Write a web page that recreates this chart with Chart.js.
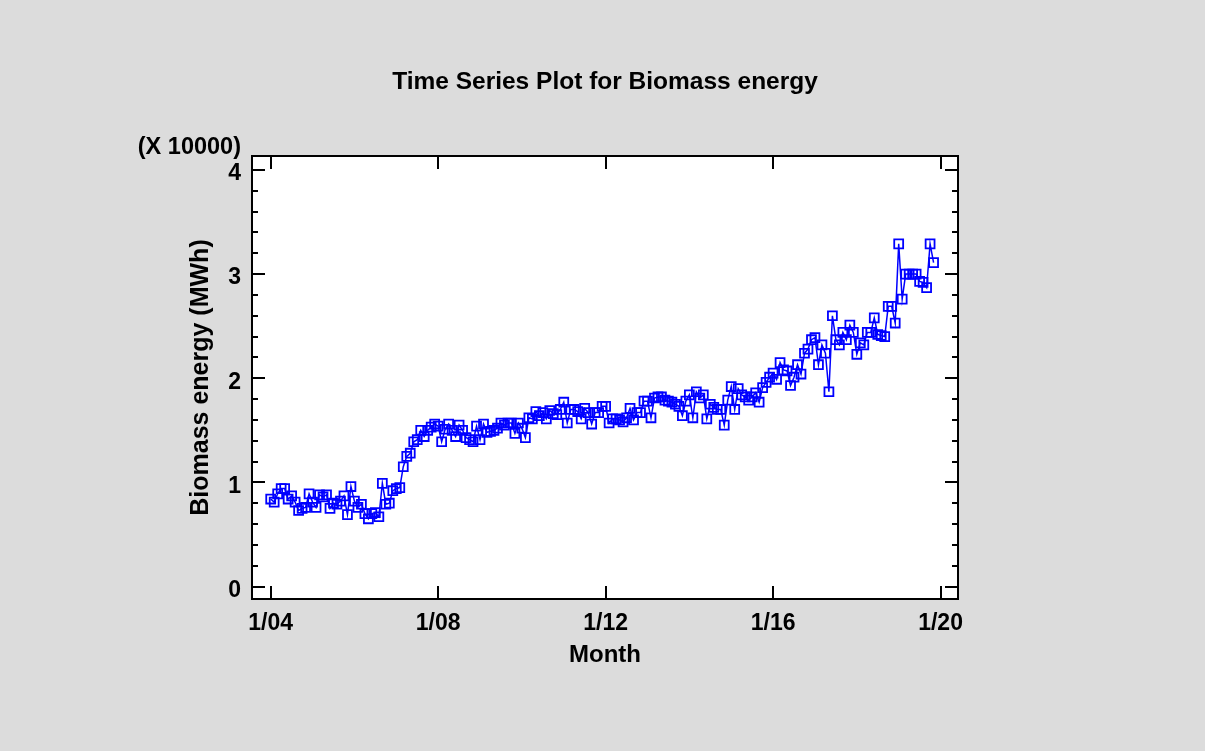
<!DOCTYPE html>
<html lang="en">
<head>
    <meta charset="UTF-8">
    <title>Time Series Plot for Biomass energy</title>
    <script src="https://cdn.jsdelivr.net/npm/chart.js"></script>
    <style>
        body { margin: 0; background: #dcdcdc; }
        #plot { display: block; }
    </style>
</head>
<body>
    <canvas id="plot" width="1205" height="751"></canvas>

    <script>
        // Monthly biomass energy (MWh), Jan 2004 onwards, one row per year
        var biomassMWh = [
            8400, 8100, 8900, 9400, 9400, 8400, 8700, 8100, 7300, 7500, 7600, 8900,
            8100, 7600, 8800, 8600, 8800, 7500, 8000, 7900, 8200, 8700, 6900, 9600,
            8200, 7600, 7900, 7000, 6500, 7000, 7100, 6700, 9900, 7900, 8000, 9200,
            9400, 9500, 11500, 12500, 12800, 13900, 14100, 15000, 14400, 15000, 15300, 15600,
            15400, 13900, 15100, 15600, 15000, 14400, 15500, 15000, 14300, 14100, 13900, 15400,
            14100, 15600, 14800, 14900, 15000, 15200, 15700, 15500, 15700, 15700, 14700, 15700,
            15200, 14300, 16200, 16100, 16800, 16400, 16700, 16100, 16900, 16600, 16500, 17000,
            17700, 15700, 17000, 17000, 16800, 16100, 17100, 16700, 15600, 16700, 16700, 17300,
            17300, 15700, 16100, 16100, 16000, 15800, 16200, 17100, 16000, 16700, 16700, 17800,
            17800, 16200, 18100, 18200, 18200, 17900, 17800, 17700, 17500, 17300, 16400, 17800,
            18400, 16200, 18700, 18100, 18400, 16100, 17500, 17200, 17000, 17000, 15500, 17900,
            19200, 17000, 19000, 18400, 18200, 17900, 18200, 18600, 17700, 19100, 19600, 20100,
            20500, 19900, 21500, 20800, 20700, 19300, 20100, 21300, 20400, 22400, 22800, 23700,
            23900, 21300, 23200, 22400, 18700, 26000, 23700, 23200, 24400, 23700, 25100, 24400,
            22300, 23400, 23200, 24400, 24400, 25800, 24200, 24100, 24000, 26900, 26900, 25300,
            32900, 27600, 30000, 30000, 30000, 30000, 29300, 29200, 28700, 32900, 31100
        ];

        // x axis: months counted from Jan 2004
        var xTickMonths = [0, 48, 96, 144, 192];
        var xTickLabels = ['1/04', '1/08', '1/12', '1/16', '1/20'];
        var yTicks = [0, 10000, 20000, 30000, 40000];
        var yMinorStep = 2000;

        var points = biomassMWh.map(function (v, i) {
            return { x: i, y: v };
        });

        var FONT = '"Liberation Sans", Arial, sans-serif';

        // grey page, white plot area, framed box with inward ticks
        var framePlugin = {
            id: 'frame',
            beforeDraw: function (chart) {
                var c = chart.ctx, a = chart.chartArea;
                c.save();
                c.fillStyle = '#dcdcdc';
                c.fillRect(0, 0, chart.width, chart.height);
                c.fillStyle = '#ffffff';
                c.fillRect(a.left, a.top, a.right - a.left, a.bottom - a.top);
                c.restore();
            },
            afterDraw: function (chart) {
                var c = chart.ctx, a = chart.chartArea;
                var xs = chart.scales.x, ys = chart.scales.y;
                c.save();
                c.strokeStyle = '#000';
                c.lineWidth = 2;
                c.strokeRect(a.left, a.top, a.right - a.left, a.bottom - a.top);
                c.beginPath();
                // y ticks, majors and minors, on both sides
                for (var v = yTicks[0]; v <= yTicks[yTicks.length - 1]; v += yMinorStep) {
                    var py = Math.round(ys.getPixelForValue(v));
                    var len = (v % 10000 === 0) ? 13 : 6;
                    c.moveTo(a.left, py); c.lineTo(a.left + len, py);
                    c.moveTo(a.right, py); c.lineTo(a.right - len, py);
                }
                // x ticks top and bottom
                xTickMonths.forEach(function (m) {
                    var px = Math.round(xs.getPixelForValue(m));
                    c.moveTo(px, a.bottom); c.lineTo(px, a.bottom - 13);
                    c.moveTo(px, a.top); c.lineTo(px, a.top + 13);
                });
                c.stroke();
                // scale factor note
                c.fillStyle = '#000';
                c.font = 'bold 23.5px ' + FONT;
                c.textAlign = 'right';
                c.textBaseline = 'middle';
                c.fillText('(X 10000)', a.left - 11, a.top - 8);
                c.restore();
            }
        };

        var ctx = document.getElementById('plot').getContext('2d');
        var chart = new Chart(ctx, {
            type: 'line',
            data: {
                datasets: [{
                    data: points,
                    borderColor: '#0000ff',
                    borderWidth: 1.5,
                    pointStyle: 'rect',
                    pointRadius: 6.3,
                    pointBorderWidth: 1.8,
                    pointBorderColor: '#0000ff',
                    pointBackgroundColor: 'rgba(0,0,0,0)',
                    tension: 0,
                    fill: false
                }]
            },
            options: {
                responsive: false,
                animation: false,
                layout: { padding: { left: 0, right: 247, top: 0, bottom: 0 } },
                plugins: {
                    legend: { display: false },
                    tooltip: { enabled: false },
                    title: {
                        display: true,
                        fullSize: false,
                        text: 'Time Series Plot for Biomass energy',
                        color: '#000',
                        font: { family: FONT, size: 24.5, weight: 'bold' },
                        padding: { top: 68, bottom: 58.6 }
                    }
                },
                scales: {
                    x: {
                        type: 'linear',
                        min: -5.36,
                        max: 197,
                        grid: { display: false, drawTicks: false },
                        border: { display: false },
                        afterBuildTicks: function (s) {
                            s.ticks = xTickMonths.map(function (m) { return { value: m }; });
                        },
                        afterFit: function (s) { s.height = 152; },
                        ticks: {
                            padding: 11,
                            color: '#000',
                            maxRotation: 0,
                            font: { family: FONT, size: 23, weight: 'bold' },
                            callback: function (v) {
                                var k = xTickMonths.indexOf(v);
                                return k >= 0 ? xTickLabels[k] : '';
                            }
                        },
                        title: {
                            display: true,
                            text: 'Month',
                            color: '#000',
                            font: { family: FONT, size: 24, weight: 'bold' },
                            padding: { top: 0, bottom: 81 }
                        }
                    },
                    y: {
                        min: -1200,
                        max: 41340,
                        grid: { display: false, drawTicks: false },
                        border: { display: false },
                        afterBuildTicks: function (s) {
                            s.ticks = yTicks.map(function (v) { return { value: v }; });
                        },
                        afterFit: function (s) { s.width = 252; },
                        ticks: {
                            padding: 11,
                            labelOffset: 4,
                            color: '#000',
                            font: { family: FONT, size: 23, weight: 'bold' },
                            callback: function (v) { return v / 10000; }
                        },
                        title: {
                            display: true,
                            text: 'Biomass energy (MWh)',
                            color: '#000',
                            font: { family: FONT, size: 25, weight: 'bold' },
                            padding: { top: 186, bottom: 0 }
                        }
                    }
                }
            },
            plugins: [framePlugin]
        });
    </script>
</body>
</html>
